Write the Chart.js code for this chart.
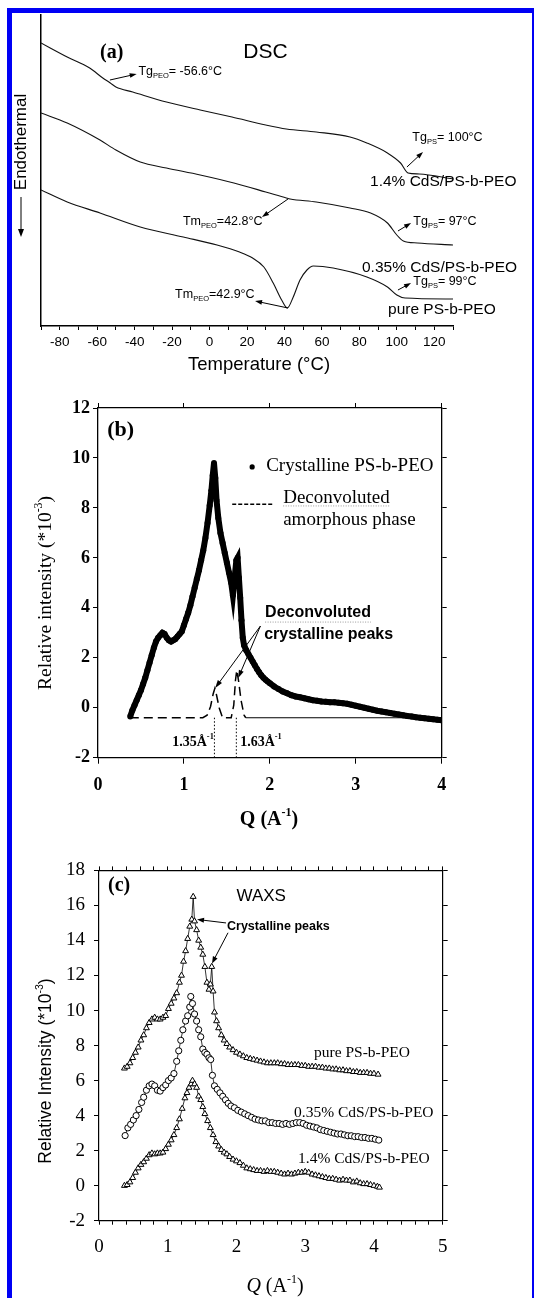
<!DOCTYPE html>
<html><head><meta charset="utf-8">
<script src="https://cdn.jsdelivr.net/npm/chart.js@4.4.1/dist/chart.umd.min.js"></script>
<style>
html,body{margin:0;padding:0;background:#fff;}
body{width:534px;height:1298px;position:relative;overflow:hidden;}
canvas{position:absolute;left:0;}
#frame{position:absolute;left:7px;top:8px;width:527px;height:1290px;box-sizing:border-box;border-left:5px solid #0000f5;border-top:5px solid #0000f5;border-right:2px solid #0000f5;pointer-events:none;}
</style></head><body>
<canvas id="ca" width="534" height="390" style="top:0px"></canvas>
<canvas id="cb" width="534" height="460" style="top:390px"></canvas>
<canvas id="cc" width="534" height="448" style="top:850px"></canvas>
<div id="frame"></div>
<script>
// ---------- (a) DSC : temperature (°C), heat flow (arbitrary units, endothermal down)
const dsc14 = [[-90,28.3],[-76,26.9],[-64,25.8],[-57,24.8],[-53,24.3],[-50,23.9],[-41,23.4],[-23,22.4],[-5,21.6],[12,20.9],[30,20.1],[41,19.7],[57,19.4],[75,18.9],[84,18.3],[95,17.3],[102,16.3],[106,15.3],[112,15.2],[130,14.7]];
const dsc035 = [[-90,21.3],[-76,20.3],[-58.5,18.6],[-50,17.6],[-37,16.4],[-23,15.8],[-5,15.1],[13,14.3],[30,13.4],[41,12.8],[43,12.7],[57,12.4],[75,11.8],[86,11.3],[95,10.3],[100,9.1],[103.5,8.5],[111,8.3],[130,8.1]];
const dscPure = [[-90,13.6],[-76,12.4],[-58.5,11.3],[-37,9.9],[-14,8.9],[4,8.1],[16,7.4],[23,6.8],[29,5.9],[34,4.3],[38.5,2.6],[41.5,1.8],[44.7,2.9],[48.3,4.6],[52,5.6],[55.4,6.0],[66,5.8],[84,4.9],[95,3.9],[100,3.1],[104.4,2.8],[130,2.7]];
const dscTickStep = 10;

// ---------- (b) XRD : Q (Å-1), relative intensity (*10^-3)
const xrdData = [[0.375,-0.35],[0.4,-0.1],[0.425,0.1],[0.45,0.3],[0.475,0.5],[0.5,0.7],[0.525,0.95],[0.55,1.2],[0.575,1.5],[0.6,1.8],[0.625,2.1],[0.65,2.4],[0.675,2.65],[0.7,2.8],[0.725,2.9],[0.75,3.0],[0.775,2.95],[0.8,2.8],[0.825,2.7],[0.85,2.65],[0.875,2.7],[0.9,2.75],[0.925,2.85],[0.95,2.95],[0.975,3.05],[1.0,3.3],[1.025,3.55],[1.05,3.8],[1.075,4.1],[1.1,4.45],[1.125,4.8],[1.15,5.15],[1.175,5.5],[1.2,5.9],[1.225,6.3],[1.25,6.8],[1.275,7.4],[1.3,8.1],[1.32,8.7],[1.335,9.3],[1.35,9.8],[1.365,9.2],[1.38,8.3],[1.4,7.6],[1.425,7.0],[1.45,6.6],[1.475,6.2],[1.5,5.8],[1.525,5.4],[1.55,5.0],[1.57,4.5],[1.59,5.2],[1.61,5.9],[1.625,6.0],[1.64,5.2],[1.655,4.4],[1.67,3.5],[1.685,2.8],[1.7,2.5],[1.725,2.3],[1.75,2.15],[1.775,2.0],[1.8,1.85],[1.825,1.7],[1.85,1.55],[1.875,1.42],[1.9,1.3],[1.925,1.2],[1.95,1.12],[1.975,1.05],[2.0,0.98],[2.05,0.85],[2.1,0.75],[2.15,0.65],[2.2,0.58],[2.25,0.5],[2.3,0.45],[2.35,0.42],[2.4,0.38],[2.45,0.34],[2.5,0.3],[2.55,0.28],[2.6,0.25],[2.65,0.24],[2.7,0.22],[2.75,0.22],[2.8,0.2],[2.85,0.18],[2.9,0.16],[2.95,0.12],[3.0,0.08],[3.05,0.04],[3.1,0.0],[3.15,-0.04],[3.2,-0.08],[3.25,-0.12],[3.3,-0.15],[3.35,-0.18],[3.4,-0.21],[3.45,-0.24],[3.5,-0.27],[3.55,-0.3],[3.6,-0.33],[3.65,-0.35],[3.7,-0.38],[3.75,-0.4],[3.8,-0.42],[3.85,-0.44],[3.9,-0.46],[3.95,-0.48],[4.0,-0.5]];
const xrdDeconv = [[0.37,-0.4],[1.22,-0.4],[1.27,-0.3],[1.31,0.05],[1.34,0.55],[1.36,0.78],[1.38,0.5],[1.41,0.0],[1.45,-0.4],[1.55,-0.4],[1.58,0.1],[1.6,1.1],[1.615,1.5],[1.635,1.1],[1.665,0.3],[1.7,-0.3],[1.72,-0.4]];
const xrdBaseline = [[1.72,-0.4],[4.0,-0.4]];
const xrdPeakQ = [1.355, 1.61];
const xrdPeakLabels = ['1.35Å', '1.63Å'];

// ---------- (c) WAXS : Q (A-1), relative intensity (*10^-3)
const waxsPure = [[0.37,6.7],[0.41,6.8],[0.45,7.0],[0.49,7.3],[0.53,7.6],[0.57,7.9],[0.61,8.3],[0.65,8.6],[0.69,9.0],[0.73,9.3],[0.77,9.5],[0.81,9.6],[0.85,9.5],[0.89,9.5],[0.93,9.6],[0.97,9.7],[1.01,10.1],[1.05,10.4],[1.09,10.7],[1.13,11.0],[1.17,11.6],[1.2,12.0],[1.23,12.8],[1.26,13.4],[1.29,14.1],[1.32,14.8],[1.35,15.2],[1.37,16.5],[1.39,15.1],[1.42,14.6],[1.45,14.0],[1.48,13.6],[1.51,13.2],[1.54,12.5],[1.57,11.6],[1.6,11.2],[1.62,11.5],[1.64,12.5],[1.66,11.1],[1.68,9.9],[1.71,9.4],[1.74,9.0],[1.78,8.6],[1.82,8.3],[1.86,8.1],[1.9,7.9],[1.95,7.75],[2.0,7.6],[2.05,7.5],[2.1,7.4],[2.15,7.3],[2.2,7.25],[2.25,7.2],[2.3,7.15],[2.35,7.1],[2.4,7.05],[2.45,7.0],[2.5,7.0],[2.55,7.0],[2.6,7.0],[2.65,6.95],[2.7,6.95],[2.75,6.9],[2.8,6.9],[2.85,6.9],[2.9,6.9],[2.95,6.85],[3.0,6.85],[3.05,6.8],[3.1,6.8],[3.15,6.8],[3.2,6.75],[3.25,6.75],[3.3,6.7],[3.35,6.7],[3.4,6.65],[3.45,6.65],[3.5,6.6],[3.55,6.6],[3.6,6.55],[3.65,6.55],[3.7,6.5],[3.75,6.5],[3.8,6.45],[3.85,6.45],[3.9,6.45],[3.95,6.4],[4.0,6.4],[4.06,6.35]];
const waxs035 = [[0.38,2.86],[0.42,3.3],[0.46,3.5],[0.5,3.75],[0.54,4.0],[0.58,4.35],[0.62,4.75],[0.65,5.05],[0.69,5.45],[0.73,5.7],[0.77,5.8],[0.81,5.7],[0.85,5.45],[0.89,5.4],[0.93,5.6],[0.97,5.75],[1.01,6.0],[1.05,6.15],[1.09,6.4],[1.13,7.1],[1.16,7.7],[1.19,8.3],[1.22,8.9],[1.26,9.4],[1.29,9.7],[1.32,10.2],[1.335,10.8],[1.36,10.4],[1.39,9.8],[1.42,9.4],[1.45,8.9],[1.48,8.5],[1.51,7.8],[1.54,7.6],[1.57,7.5],[1.6,7.3],[1.625,7.2],[1.65,6.3],[1.68,5.7],[1.72,5.5],[1.76,5.3],[1.8,5.1],[1.84,4.9],[1.88,4.7],[1.92,4.55],[1.97,4.45],[2.02,4.3],[2.07,4.2],[2.12,4.1],[2.17,4.0],[2.22,3.9],[2.27,3.8],[2.32,3.75],[2.37,3.7],[2.42,3.7],[2.47,3.6],[2.52,3.6],[2.57,3.55],[2.62,3.55],[2.67,3.5],[2.72,3.55],[2.77,3.5],[2.82,3.55],[2.87,3.6],[2.92,3.6],[2.97,3.55],[3.02,3.45],[3.07,3.4],[3.12,3.35],[3.17,3.3],[3.22,3.2],[3.27,3.15],[3.32,3.1],[3.37,3.05],[3.42,3.0],[3.47,2.95],[3.52,2.95],[3.57,2.9],[3.62,2.85],[3.67,2.85],[3.72,2.8],[3.77,2.8],[3.82,2.75],[3.87,2.75],[3.92,2.7],[3.97,2.7],[4.02,2.65],[4.07,2.6]];
const waxs14 = [[0.37,0.0],[0.41,0.05],[0.45,0.2],[0.49,0.45],[0.53,0.75],[0.57,1.0],[0.61,1.2],[0.65,1.35],[0.69,1.55],[0.73,1.75],[0.77,1.85],[0.81,1.8],[0.85,1.85],[0.89,1.85],[0.93,1.9],[0.97,2.1],[1.01,2.35],[1.05,2.6],[1.09,2.9],[1.13,3.3],[1.17,3.8],[1.21,4.4],[1.25,5.0],[1.28,5.3],[1.31,5.6],[1.34,5.8],[1.36,6.0],[1.39,5.8],[1.42,5.6],[1.45,5.1],[1.48,4.9],[1.51,4.5],[1.54,4.1],[1.58,3.7],[1.62,3.3],[1.66,2.9],[1.7,2.5],[1.74,2.25],[1.78,2.05],[1.82,1.9],[1.86,1.8],[1.9,1.65],[1.95,1.5],[2.0,1.4],[2.05,1.3],[2.1,1.15],[2.15,1.0],[2.2,0.95],[2.25,0.9],[2.3,0.85],[2.35,0.85],[2.4,0.8],[2.45,0.85],[2.5,0.8],[2.55,0.8],[2.6,0.75],[2.65,0.7],[2.7,0.65],[2.75,0.7],[2.8,0.65],[2.85,0.7],[2.9,0.75],[2.95,0.75],[3.0,0.8],[3.05,0.75],[3.1,0.65],[3.15,0.6],[3.2,0.55],[3.25,0.5],[3.3,0.45],[3.35,0.4],[3.4,0.4],[3.45,0.35],[3.5,0.3],[3.55,0.35],[3.6,0.3],[3.65,0.3],[3.7,0.2],[3.75,0.25],[3.8,0.15],[3.85,0.1],[3.9,0.1],[3.95,0.05],[4.0,0.0],[4.05,-0.05],[4.08,-0.1]];

const SANS = "'Liberation Sans', Arial, sans-serif";
const SERIF = "'Liberation Serif', 'Times New Roman', serif";
const pts = arr => arr.map(p => ({x:p[0], y:p[1]}));

function rich(ctx, parts, x, y, o){
  const size=o.size, fam=o.family, w=o.weight||'normal';
  const items=parts.map(p=>typeof p==='string'?{t:p}:p);
  const fontOf=it=>{const sz=(it.sub||it.sup)?size*0.6:size;return (it.italic?'italic ':'')+w+' '+sz+'px '+fam;};
  let total=0; const ws=[];
  for(const it of items){ctx.font=fontOf(it); const m=ctx.measureText(it.t).width; ws.push(m); total+=m;}
  ctx.save(); ctx.translate(x,y); if(o.rot) ctx.rotate(o.rot);
  ctx.fillStyle=o.color||'#000'; ctx.textBaseline='middle'; ctx.textAlign='left';
  let cx=o.align==='center'?-total/2:0;
  items.forEach((it,i)=>{ctx.font=fontOf(it); const dy=it.sub?size*0.3:it.sup?-size*0.36:0; ctx.fillText(it.t,cx,dy); cx+=ws[i];});
  ctx.restore();
  return total;
}
function arrow(ctx,x1,y1,x2,y2,hl,hw){
  hl=hl||7; hw=hw||2.6;
  const a=Math.atan2(y2-y1,x2-x1), c=Math.cos(a), s=Math.sin(a);
  ctx.save(); ctx.strokeStyle='#000'; ctx.fillStyle='#000'; ctx.lineWidth=1;
  ctx.beginPath(); ctx.moveTo(x1,y1); ctx.lineTo(x2-c*hl*0.7,y2-s*hl*0.7); ctx.stroke();
  ctx.beginPath(); ctx.moveTo(x2,y2); ctx.lineTo(x2-hl*c+hw*s,y2-hl*s-hw*c); ctx.lineTo(x2-hl*c-hw*s,y2-hl*s+hw*c); ctx.closePath(); ctx.fill();
  ctx.restore();
}
function squiggle(ctx,x1,x2,y){
  ctx.save(); ctx.strokeStyle='#9a9a9a'; ctx.lineWidth=1; ctx.setLineDash([1,1.5]);
  ctx.beginPath(); ctx.moveTo(x1,y); ctx.lineTo(x2,y); ctx.stroke(); ctx.restore();
}

const baseOpts = {responsive:false, animation:false, events:[], plugins:{legend:{display:false}, tooltip:{enabled:false}}};

// ================= (a)
const annotA = {id:'annotA', afterDraw(chart){
  const ctx=chart.ctx, sx=chart.scales.x, sy=chart.scales.y;
  const P=(a,b)=>[sx.getPixelForValue(a), sy.getPixelForValue(b)];
  const t=(parts,a,b,o)=>{const p=P(a,b); return rich(ctx,parts,p[0],p[1],o);};
  const ar=(a1,b1,a2,b2)=>{const p=P(a1,b1), q=P(a2,b2); arrow(ctx,p[0],p[1],q[0],q[1],7,2.4);};
  const lab={size:12.5,family:SANS};
  t(['(a)'],-58.5,27.3,{size:20,family:SERIF,weight:'bold'});
  t(['DSC'],18,27.4,{size:21,family:SANS});
  t(['Tg',{t:'PEO',sub:1},'= -56.6°C'],-38,25.4,lab); ar(-53.2,24.6,-38.9,25.2);
  t(['Tg',{t:'PS',sub:1},'= 100°C'],108.3,18.8,lab); ar(105.4,15.9,114,17.4);
  t(['1.4% CdS/PS-b-PEO'],85.7,14.4,{size:15.5,family:SANS});
  t(['Tm',{t:'PEO',sub:1},'=42.8°C'],-14.2,10.4,lab); ar(41.9,12.7,28,10.9);
  t(['Tg',{t:'PS',sub:1},'= 97°C'],108.8,10.4,lab); ar(100.6,9.5,107.6,10.3);
  t(['0.35% CdS/PS-b-PEO'],81.4,5.8,{size:15.5,family:SANS});
  t(['Tg',{t:'PS',sub:1},'= 99°C'],108.8,4.4,lab); ar(100.6,3.6,107.6,4.3);
  t(['Tm',{t:'PEO',sub:1},'=42.9°C'],-18.4,3.1,lab); ar(41.9,1.8,24.3,2.5);
  t(['pure PS-b-PEO'],95.3,1.6,{size:15.5,family:SANS});
  // axis titles
  rich(ctx,['Temperature (°C)'],259,365,{size:18.5,family:SANS,align:'center'});
  rich(ctx,['Endothermal'],21,142,{size:17,family:SANS,align:'center',rot:-Math.PI/2});
  arrow(ctx,21,197,21,237,8,3);
}};
const lineDS = d => ({data:pts(d), showLine:true, borderColor:'#111', borderWidth:1.1, pointRadius:0, cubicInterpolationMode:'monotone', fill:false});
new Chart(document.getElementById('ca'), {
  type:'scatter',
  data:{datasets:[lineDS(dsc14), lineDS(dsc035), lineDS(dscPure)]},
  options:Object.assign({}, baseOpts, {
    layout:{padding:{left:0,right:81,top:15,bottom:0}},
    scales:{
      x:{type:'linear',min:-90,max:130,
         ticks:{stepSize:dscTickStep,autoSkip:false,maxRotation:0,color:'#000',font:{family:SANS,size:13.5},padding:4,
                callback:v=>(v%20===0&&v>-90&&v<130)?String(v):''},
         grid:{display:true,drawOnChartArea:false,tickLength:4,color:'#000'},
         border:{display:true,color:'#000',width:1.5},
         afterFit:s=>{s.height=64;}},
      y:{type:'linear',min:0,max:31.1,ticks:{display:false},grid:{display:false},
         border:{display:true,color:'#000',width:1.5},afterFit:s=>{s.width=41;}}
    }
  }),
  plugins:[annotA]
});

// ================= (b)
const annotB = {id:'annotB', afterDraw(chart){
  const ctx=chart.ctx, sx=chart.scales.x, sy=chart.scales.y;
  const P=(a,b)=>[sx.getPixelForValue(a), sy.getPixelForValue(b)];
  const t=(parts,a,b,o)=>{const p=P(a,b); return rich(ctx,parts,p[0],p[1],o);};
  t(['(b)'],0.108,11.12,{size:22,family:SERIF,weight:'bold'});
  let p=P(1.794,9.64); ctx.save(); ctx.fillStyle='#000'; ctx.beginPath(); ctx.arc(p[0],p[1],2.6,0,Math.PI*2); ctx.fill(); ctx.restore();
  t(['Crystalline PS-b-PEO'],1.957,9.66,{size:19,family:SERIF});
  const l1=P(1.562,8.15), l2=P(2.04,8.15);
  ctx.save(); ctx.strokeStyle='#000'; ctx.lineWidth=1.5; ctx.setLineDash([4,2]); ctx.beginPath(); ctx.moveTo(l1[0],l1[1]); ctx.lineTo(l2[0],l2[1]); ctx.stroke(); ctx.restore();
  let w=t(['Deconvoluted'],2.155,8.4,{size:19,family:SERIF});
  p=P(2.155,8.4); squiggle(ctx,p[0],p[0]+w,p[1]+8);
  t(['amorphous phase'],2.155,7.51,{size:19,family:SERIF});
  w=t(['Deconvoluted'],1.945,3.79,{size:16,family:SANS,weight:'bold'});
  p=P(1.945,3.79); squiggle(ctx,p[0],p[0]+w,p[1]+9);
  t(['crystalline peaks'],1.934,2.91,{size:16,family:SANS,weight:'bold'});
  const a0=P(1.89,3.27), a1=P(1.364,0.79), a2=P(1.631,1.19);
  arrow(ctx,a0[0],a0[1],a1[0],a1[1],8,2.6); arrow(ctx,a0[0],a0[1],a2[0],a2[1],8,2.6);
  t([xrdPeakLabels[0],{t:'-1',sup:1}],0.864,-1.37,{size:14,family:SERIF,weight:'bold'});
  t([xrdPeakLabels[1],{t:'-1',sup:1}],1.655,-1.37,{size:14,family:SERIF,weight:'bold'});
  rich(ctx,['Q (A',{t:'-1',sup:1},')'],269,430,{size:20,family:SERIF,weight:'bold',align:'center'});
  rich(ctx,['Relative intensity (*10',{t:'-3',sup:1},')'],46,203,{size:19.5,family:SERIF,align:'center',rot:-Math.PI/2});
}};
const frameGrid = len => ({display:true,drawOnChartArea:false,tickLength:len,color:'#000'});
new Chart(document.getElementById('cb'), {
  type:'scatter',
  data:{datasets:[
    {data:pts(xrdDeconv), showLine:true, borderColor:'#000', borderWidth:1.5, borderDash:[9,5], pointRadius:0},
    {data:pts(xrdBaseline), showLine:true, borderColor:'#000', borderWidth:1.1, pointRadius:0},
    {data:[{x:xrdPeakQ[0],y:-0.4},{x:xrdPeakQ[0],y:-2}], showLine:true, borderColor:'#000', borderWidth:1, borderDash:[1.5,2], pointRadius:0},
    {data:[{x:xrdPeakQ[1],y:-0.4},{x:xrdPeakQ[1],y:-2}], showLine:true, borderColor:'#000', borderWidth:1, borderDash:[1.5,2], pointRadius:0},
    {data:pts(xrdData), showLine:true, borderColor:'#000', backgroundColor:'#000', borderWidth:6, pointRadius:3, pointBorderWidth:0, pointBackgroundColor:'#000'}
  ]},
  options:Object.assign({}, baseOpts, {
    layout:{padding:{left:0,right:87.3,top:13,bottom:0}},
    scales:{
      x:{type:'linear',position:'bottom',min:0,max:4,
         ticks:{stepSize:1,maxRotation:0,color:'#000',font:{family:SERIF,size:18,weight:'bold'},padding:11},
         grid:frameGrid(6),border:{color:'#000',width:1.3},afterFit:s=>{s.height=92.3;}},
      x2:{type:'linear',position:'top',min:0,max:4,ticks:{stepSize:1,display:false},
         grid:frameGrid(5),border:{color:'#000',width:1.3},afterFit:s=>{s.height=5;}},
      y:{type:'linear',position:'left',min:-2,max:12,
         ticks:{stepSize:2,color:'#000',font:{family:SERIF,size:18,weight:'bold'},padding:3},
         grid:frameGrid(5),border:{color:'#000',width:1.3},afterFit:s=>{s.width=98;}},
      y2:{type:'linear',position:'right',min:-2,max:12,ticks:{stepSize:2,display:false},
         grid:frameGrid(5),border:{color:'#000',width:1.3},afterFit:s=>{s.width=5;}}
    }
  }),
  plugins:[annotB]
});

// ================= (c)
const annotC = {id:'annotC', afterDraw(chart){
  const ctx=chart.ctx, sx=chart.scales.x, sy=chart.scales.y;
  const P=(a,b)=>[sx.getPixelForValue(a), sy.getPixelForValue(b)];
  const t=(parts,a,b,o)=>{const p=P(a,b); return rich(ctx,parts,p[0],p[1],o);};
  t(['(c)'],0.131,17.1,{size:20,family:SERIF,weight:'bold'});
  t(['WAXS'],2.0,16.5,{size:17,family:SANS});
  t(['Crystalline peaks'],1.862,14.8,{size:12.5,family:SANS,weight:'bold'});
  let a=P(1.848,15.0), b=P(1.426,15.2); arrow(ctx,a[0],a[1],b[0],b[1],7,2.6);
  a=P(1.877,14.44); b=P(1.644,12.69); arrow(ctx,a[0],a[1],b[0],b[1],7,2.6);
  t(['pure PS-b-PEO'],3.128,7.58,{size:15.5,family:SERIF});
  t(['0.35% CdS/PS-b-PEO'],2.837,4.17,{size:15.5,family:SERIF});
  t(['1.4% CdS/PS-b-PEO'],2.895,1.5,{size:15.5,family:SERIF});
  rich(ctx,[{t:'Q',italic:1},' (A',{t:'-1',sup:1},')'],275,437,{size:20,family:SERIF,align:'center'});
  rich(ctx,['Relative Intensity (*10',{t:'-3',sup:1},')'],46,221,{size:17.5,family:SANS,align:'center',rot:-Math.PI/2});
}};
const markDS = (d, style, r) => ({data:pts(d), showLine:true, borderColor:'#000', borderWidth:0.8, pointStyle:style, pointRadius:r, pointBorderWidth:1, pointBorderColor:'#000', pointBackgroundColor:'#fff'});
const intLabel = v => Math.abs(v-Math.round(v))<1e-6 ? String(Math.round(v)) : '';
new Chart(document.getElementById('cc'), {
  type:'scatter',
  data:{datasets:[markDS(waxsPure,'triangle',3.4), markDS(waxs035,'circle',3.1), markDS(waxs14,'triangle',3.4)]},
  options:Object.assign({}, baseOpts, {
    layout:{padding:{left:0,right:86.3,top:14.3,bottom:0}},
    scales:{
      x:{type:'linear',position:'bottom',min:0,max:5,
         ticks:{stepSize:0.2,autoSkip:false,maxRotation:0,color:'#000',font:{family:SERIF,size:19},padding:11,callback:intLabel},
         grid:frameGrid(4),border:{color:'#000',width:1.2},afterFit:s=>{s.height=77.3;}},
      x2:{type:'linear',position:'top',min:0,max:5,ticks:{stepSize:0.2,display:false},
         grid:frameGrid(4),border:{color:'#000',width:1.2},afterFit:s=>{s.height=4;}},
      y:{type:'linear',position:'left',min:-2,max:18,
         ticks:{stepSize:2,color:'#000',font:{family:SERIF,size:19},padding:9},
         grid:frameGrid(5),border:{color:'#000',width:1.2},afterFit:s=>{s.width=99;}},
      y2:{type:'linear',position:'right',min:-2,max:18,ticks:{stepSize:2,display:false},
         grid:frameGrid(5),border:{color:'#000',width:1.2},afterFit:s=>{s.width=5;}}
    }
  }),
  plugins:[annotC]
});
</script></body></html>
